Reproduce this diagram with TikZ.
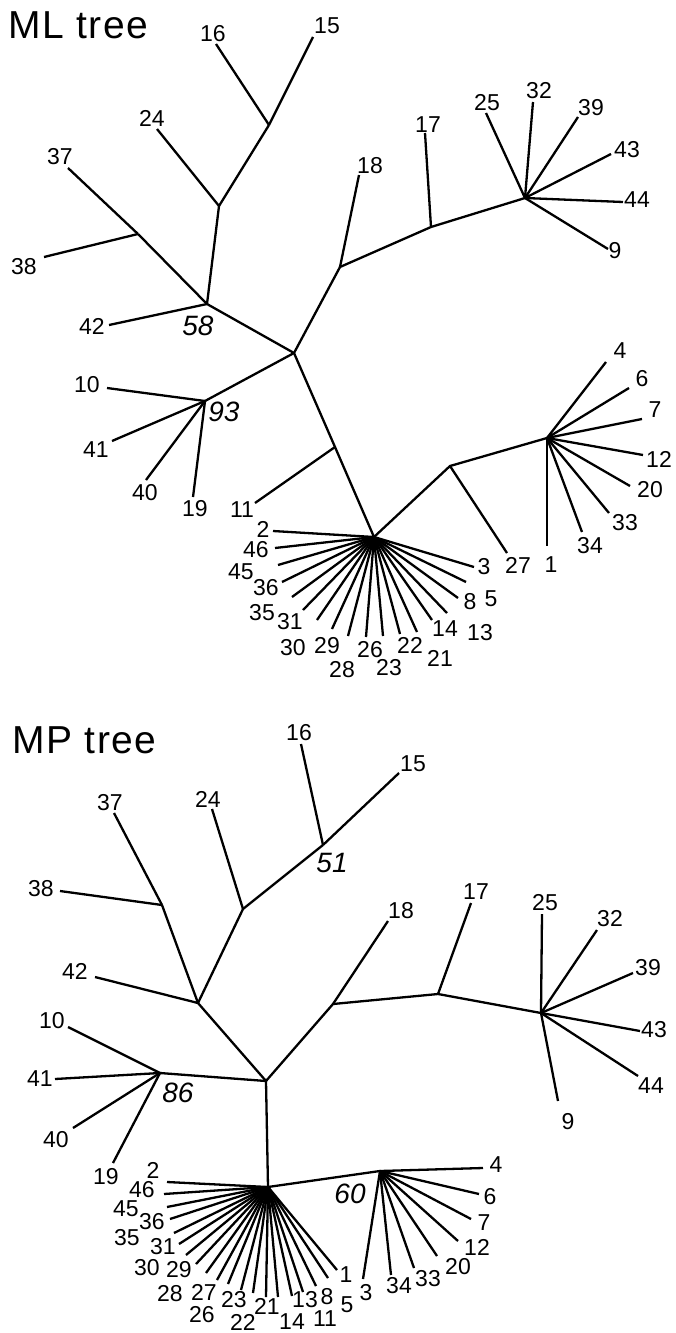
\documentclass[tikz,border=0pt]{standalone}
\usepackage{fontspec}
\setmainfont{Liberation Sans}
\newfontfamily\titlefam[LetterSpace=4]{Liberation Sans}
% #1 parent node, #2 name prefix, #3 list of label/leafx/leafy/textx/texty
\newcommand\leafset[3]{%
  \foreach \t/\lx/\ly/\tx/\ty in {#3} {
    \coordinate (#2-\t) at (\lx,\ly);
    \node[lbl] (#2t-\t) at (\tx,\ty) {\t};
    \draw[br] (#1) -- (#2-\t);
  }%
}
\begin{document}
\begin{tikzpicture}[x=1pt,y=-1pt,
  br/.style={line width=2.3pt},
  lbl/.style={font=\fontsize{23}{23}\selectfont, inner sep=0pt},
  boot/.style={font=\fontsize{28}{28}\selectfont\itshape, inner sep=0pt},
  ttl/.style={font=\fontsize{39}{39}\selectfont\titlefam, inner sep=0pt, anchor=base west}]
\useasboundingbox (0,0) rectangle (675,1333);

% ---------------- ML tree ----------------
\node[ttl] (mltitle) at (8,38) {ML tree};
\coordinate (mD) at (294,353);
\coordinate (mA) at (269,125);
\coordinate (mB) at (219,206);
\coordinate (m58) at (207,304);
\coordinate (mC) at (138,234);
\coordinate (m93) at (205,401);
\coordinate (mE) at (335,447);
\coordinate (mK) at (374,537);
\coordinate (mI) at (450,466);
\coordinate (mJ) at (547,438);
\coordinate (mF) at (340,267);
\coordinate (mG) at (431,227);
\coordinate (mH) at (525,198);

\draw[br] (mD) -- (m58) -- (mB) -- (mA);
\draw[br] (m58) -- (mC);
\draw[br] (mD) -- (mF) -- (mG) -- (mH);
\draw[br] (mD) -- (m93);
\draw[br] (mD) -- (mE) -- (mK);
\draw[br] (mK) -- (mI) -- (mJ);

\node[boot] (mb58) at (198,326) {58};
\node[boot] (mb93) at (224,412) {93};

\leafset{mA}{ml}{16/216/44/213/34, 15/313/37/327/26}
\leafset{mB}{ml}{24/157/129/152/118}
\leafset{mC}{ml}{37/68/168/60/157, 38/44/257/24/267}
\leafset{m58}{ml}{42/109/325/92/326}
\leafset{mF}{ml}{18/359/175/370/166}
\leafset{mG}{ml}{17/425/133/428/125}
\leafset{mH}{ml}{25/486/113/487/103, 32/533/102/539/91, 39/578/117/591/108, 43/611/154/627/150, 44/623/202/637/200, 9/608/249/615/251}
\leafset{m93}{ml}{10/107/388/87/385, 41/112/441/96/450, 40/146/480/145/493, 19/193/497/195/509}
\leafset{mE}{ml}{11/255/503/242/510}
\leafset{mI}{ml}{27/507/553/518/565}
\leafset{mJ}{ml}{4/606/362/620/351, 6/629/388/642/379, 7/642/419/655/410, 12/643/455/659/459, 20/630/486/650/490, 33/609/513/625/523, 34/582/532/590/546, 1/547/546/551/565}
\leafset{mK}{ml}{2/273/531/263/529, 46/275/548/256/550, 45/278/565/241/572, 36/282/582/266/588, 35/292/597/262/613, 31/303/610/290/622, 30/317/620/293/648, 29/332/629/327/646, 28/348/636/342/670, 26/366/637/370/650, 23/383/636/389/668, 22/400/634/410/645, 21/417/632/440/658, 14/432/620/445/629, 13/447/613/480/633, 8/458/598/470/602, 5/466/582/491/599, 3/474/567/484/567}

% ---------------- MP tree ----------------
\node[ttl] (mptitle) at (12,753) {MP tree};
\coordinate (pR) at (266,1081);
\coordinate (pP) at (198,1003);
\coordinate (p38) at (162,905);
\coordinate (p24) at (243,909);
\coordinate (p51) at (323,845);
\coordinate (p18) at (333,1004);
\coordinate (p17) at (438,994);
\coordinate (pQ) at (541,1013);
\coordinate (p86) at (160,1073);
\coordinate (pK) at (268,1187);
\coordinate (p60) at (380,1171);

\draw[br] (pR) -- (pP) -- (p38);
\draw[br] (pP) -- (p24) -- (p51);
\draw[br] (pR) -- (p18) -- (p17) -- (pQ);
\draw[br] (pR) -- (p86);
\draw[br] (pR) -- (pK) -- (p60);

\node[boot] (pb51) at (332,863) {51};
\node[boot] (pb86) at (178,1093) {86};
\node[boot] (pb60) at (350,1194) {60};

\leafset{p51}{pl}{16/301/744/299/733, 15/399/773/413/764}
\leafset{p24}{pl}{24/212/809/208/799}
\leafset{p38}{pl}{37/114/813/110/803, 38/60/891/41/889}
\leafset{pP}{pl}{42/95/977/75/971}
\leafset{p18}{pl}{18/388/921/401/911}
\leafset{p17}{pl}{17/471/903/476/892}
\leafset{pQ}{pl}{25/542/914/545/903, 32/597/930/610/919, 39/633/973/648/968, 43/640/1031/654/1030, 44/638/1076/651/1086, 9/558/1101/568/1122}
\leafset{p86}{pl}{10/68/1027/52/1021, 41/55/1079/40/1079, 40/73/1128/56/1140, 19/113/1163/106/1177}
\leafset{pK}{pl}{2/167/1182/153/1170, 46/164/1194/142/1190, 45/167/1207/126/1209, 36/170/1219/152/1222, 35/174/1233/127/1238, 31/179/1244/163/1247, 30/186/1255/147/1268, 29/196/1264/179/1270, 28/206/1273/170/1294, 27/217/1280/204/1292, 26/228/1284/202/1315, 23/241/1290/234/1300, 22/253/1293/243/1322, 21/266/1297/267/1306, 14/278/1297/292/1322, 13/292/1296/305/1300, 11/303/1292/325/1319, 8/316/1286/327/1297, 5/328/1278/347/1305, 1/337/1270/346/1275}
\leafset{p60}{pl}{4/483/1168/496/1165, 6/479/1194/490/1197, 7/471/1219/484/1223, 12/458/1241/477/1247, 20/437/1256/458/1267, 33/414/1268/428/1279, 34/391/1275/399/1286, 3/363/1279/366/1293}
\end{tikzpicture}
\end{document}
